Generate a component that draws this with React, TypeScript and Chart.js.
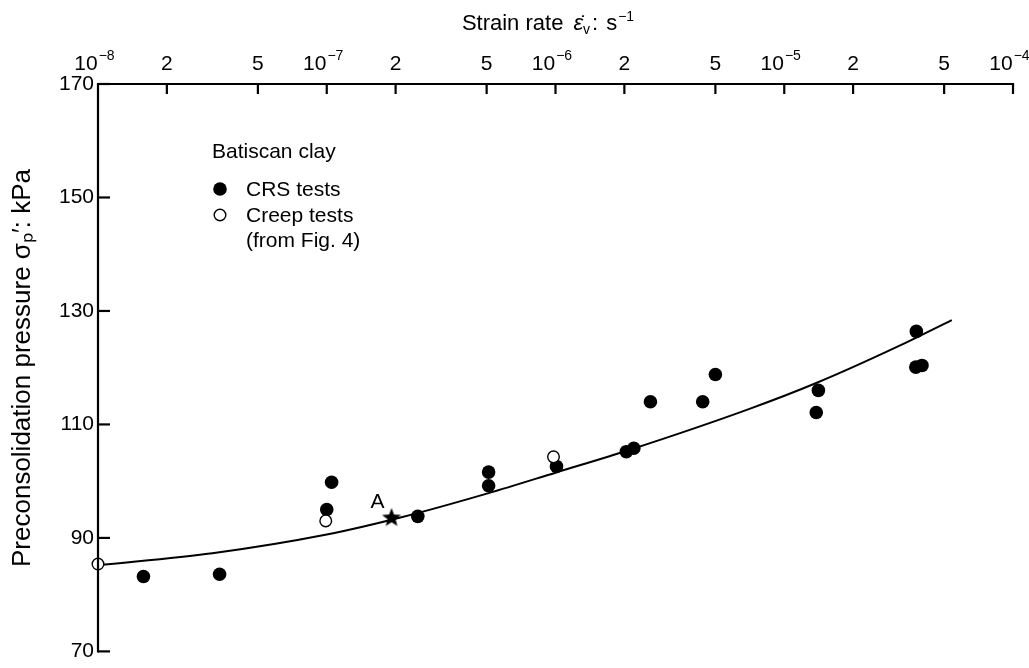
import React, { useEffect, useRef } from "react";
import { Chart, registerables } from "chart.js";
Chart.register(...registerables);

// ---- data ----
const crsRate = [1.58e-8, 3.4e-8, 1.0e-7, 1.05e-7, 2.5e-7, 5.1e-7, 5.1e-7, 1.01e-6, 2.04e-6, 2.2e-6, 2.6e-6, 4.4e-6, 5.0e-6, 1.41e-5, 1.38e-5, 3.78e-5, 3.76e-5, 4.0e-5];
const crsPressure = [83.2, 83.6, 95.0, 99.8, 93.8, 101.6, 99.2, 102.6, 105.2, 105.8, 114.0, 114.0, 118.8, 116.0, 112.1, 126.4, 120.1, 120.4];
const creepRate = [1.0e-8, 9.9e-8, 9.8e-7];
const creepPressure = [85.4, 93.0, 104.3];
const pointARate = [1.92e-7];
const pointAPressure = [93.6];
const curveRate = [1e-8, 3.16e-8, 1e-7, 2.1e-7, 5.1e-7, 1e-6, 2.1e-6, 7e-6, 1.38e-5, 3.16e-5, 5.4e-5];
const curvePressure = [85.2, 87.3, 90.6, 93.6, 97.9, 101.5, 105.5, 112.7, 117.3, 123.8, 128.4];
const xTickValues = [1e-8, 2e-8, 5e-8, 1e-7, 2e-7, 5e-7, 1e-6, 2e-6, 5e-6, 1e-5, 2e-5, 5e-5, 1e-4];
const xTickMain = ["10", "2", "5", "10", "2", "5", "10", "2", "5", "10", "2", "5", "10"];
const xTickSup = ["−8", "", "", "−7", "", "", "−6", "", "", "−5", "", "", "−4"];
const yTickValues = [70, 90, 110, 130, 150, 170];
const legendTitle = "Batiscan clay";
const legendCRS = "CRS tests";
const legendCreep = ["Creep tests", "(from Fig. 4)"];
const xTitleParts = ["Strain rate", "ε̇", "v", ":", "s", "−1"];
const yTitle = "Preconsolidation pressure σₚ′: kPa";
const labelA = "A";

const FONT = "'Liberation Sans', Arial, Helvetica, sans-serif";

function makeStar(): HTMLCanvasElement {
  const c = document.createElement("canvas");
  c.width = 22;
  c.height = 22;
  const g = c.getContext("2d")!;
  g.fillStyle = "#000";
  g.beginPath();
  for (let i = 0; i < 10; i++) {
    const r = i % 2 === 0 ? 10 : 4.2;
    const a = -Math.PI / 2 + (i * Math.PI) / 5;
    const px = 11 + r * Math.cos(a);
    const py = 11.5 + r * Math.sin(a);
    if (i === 0) g.moveTo(px, py);
    else g.lineTo(px, py);
  }
  g.closePath();
  g.fill();
  return c;
}

const overlay = {
  id: "overlay",
  afterDraw(chart: any) {
    const { ctx, scales } = chart;
    const xs = scales.x;
    const ys = scales.y;
    const left = xs.getPixelForValue(xTickValues[0]);
    const right = xs.getPixelForValue(xTickValues[xTickValues.length - 1]);
    const top = ys.getPixelForValue(yTickValues[yTickValues.length - 1]);
    const bottom = ys.getPixelForValue(yTickValues[0]);
    ctx.save();
    ctx.strokeStyle = "#000";
    ctx.fillStyle = "#000";
    ctx.lineWidth = 2.2;
    ctx.lineCap = "square";
    ctx.beginPath();
    ctx.moveTo(left, top);
    ctx.lineTo(right, top);
    ctx.moveTo(left, top);
    ctx.lineTo(left, bottom);
    ctx.stroke();
    ctx.lineCap = "butt";
    // top axis ticks and labels
    xTickValues.forEach((v, i) => {
      const px = xs.getPixelForValue(v);
      if (i > 0) {
        ctx.beginPath();
        ctx.moveTo(px, top);
        ctx.lineTo(px, top + 10);
        ctx.stroke();
      }
      const main = xTickMain[i];
      const sup = xTickSup[i];
      ctx.textBaseline = "alphabetic";
      ctx.font = `21px ${FONT}`;
      if (sup) {
        const wm = ctx.measureText(main).width;
        ctx.font = `14px ${FONT}`;
        const ws = ctx.measureText(sup).width;
        const start = px - (wm + ws) / 2 - 4;
        ctx.font = `21px ${FONT}`;
        ctx.textAlign = "left";
        ctx.fillText(main, start, 70);
        ctx.font = `14px ${FONT}`;
        ctx.fillText(sup, start + wm + 1, 60);
      } else {
        ctx.textAlign = "center";
        ctx.fillText(main, px, 70);
      }
    });
    // left axis ticks (inward)
    yTickValues.forEach((v) => {
      const py = ys.getPixelForValue(v);
      ctx.beginPath();
      ctx.moveTo(left, py);
      ctx.lineTo(left + 12, py);
      ctx.stroke();
    });
    // top title, built from parts
    ctx.textBaseline = "alphabetic";
    ctx.textAlign = "left";
    const f1 = `22px ${FONT}`;
    const fi = `italic 22px ${FONT}`;
    const fs = `14px ${FONT}`;
    const widths: number[] = [];
    ctx.font = f1; widths.push(ctx.measureText(xTitleParts[0]).width);
    ctx.font = fi; widths.push(ctx.measureText(xTitleParts[1]).width);
    ctx.font = fs; widths.push(ctx.measureText(xTitleParts[2]).width);
    ctx.font = f1; widths.push(ctx.measureText(xTitleParts[3]).width);
    ctx.font = f1; widths.push(ctx.measureText(xTitleParts[4]).width);
    ctx.font = fs; widths.push(ctx.measureText(xTitleParts[5]).width);
    const gaps = [10, 0, 2, 8, 1, 0];
    const total = widths.reduce((a, b) => a + b, 0) + gaps.reduce((a, b) => a + b, 0);
    let tx = 548 - total / 2;
    const ty = 30;
    ctx.font = f1; ctx.fillText(xTitleParts[0], tx, ty); tx += widths[0] + gaps[0];
    ctx.font = fi; ctx.fillText(xTitleParts[1], tx, ty); tx += widths[1] + gaps[1];
    ctx.font = fs; ctx.fillText(xTitleParts[2], tx, ty + 4); tx += widths[2] + gaps[2];
    ctx.font = f1; ctx.fillText(xTitleParts[3], tx, ty); tx += widths[3] + gaps[3];
    ctx.font = f1; ctx.fillText(xTitleParts[4], tx, ty); tx += widths[4] + gaps[4];
    ctx.font = fs; ctx.fillText(xTitleParts[5], tx, ty - 9);
    // left title
    ctx.font = `26px ${FONT}`;
    ctx.textAlign = "center";
    ctx.textBaseline = "middle";
    ctx.save();
    ctx.translate(23, 368);
    ctx.rotate(-Math.PI / 2);
    ctx.fillText(yTitle, 0, 0);
    ctx.restore();
    // legend
    ctx.textAlign = "left";
    ctx.font = `21px ${FONT}`;
    ctx.fillText(legendTitle, 212, 152);
    ctx.beginPath();
    ctx.arc(220, 189, 6.8, 0, Math.PI * 2);
    ctx.fill();
    ctx.fillText(legendCRS, 246, 190);
    ctx.lineWidth = 1.4;
    ctx.beginPath();
    ctx.arc(220, 215, 5.8, 0, Math.PI * 2);
    ctx.stroke();
    ctx.fillText(legendCreep[0], 246, 216);
    ctx.fillText(legendCreep[1], 246, 241);
    // label A
    const ax = xs.getPixelForValue(pointARate[0]);
    const ay = ys.getPixelForValue(pointAPressure[0]);
    ctx.textAlign = "center";
    ctx.font = `21px ${FONT}`;
    ctx.fillText(labelA, ax - 14, ay - 15);
    ctx.restore();
  },
};

export default function App() {
  const ref = useRef<HTMLCanvasElement | null>(null);
  useEffect(() => {
    document.body.style.margin = "0";
    const canvas = ref.current!;
    const star = makeStar();
    const chart = new Chart(canvas, {
      type: "scatter",
      data: {
        datasets: [
          {
            label: "Creep tests",
            data: creepRate.map((x, i) => ({ x, y: creepPressure[i] })),
            pointStyle: "circle",
            pointRadius: 5.8,
            backgroundColor: "#fff",
            borderColor: "#000",
            borderWidth: 1.4,
            clip: false,
          },
          {
            label: "A",
            data: pointARate.map((x, i) => ({ x, y: pointAPressure[i] })),
            pointStyle: star,
            clip: false,
          },
          {
            label: "CRS tests",
            data: crsRate.map((x, i) => ({ x, y: crsPressure[i] })),
            pointStyle: "circle",
            pointRadius: 6.8,
            backgroundColor: "#000",
            borderColor: "#000",
            borderWidth: 0,
            clip: false,
          },
          {
            type: "line",
            label: "Fit",
            data: curveRate.map((x, i) => ({ x, y: curvePressure[i] })),
            borderColor: "#000",
            borderWidth: 2,
            pointRadius: 0,
            showLine: true,
            fill: false,
            cubicInterpolationMode: "monotone",
            clip: false,
          } as any,
        ],
      },
      options: {
        animation: false,
        responsive: false,
        maintainAspectRatio: false,
        layout: { padding: { left: 0, top: 0, right: 16, bottom: 14 } },
        plugins: { legend: { display: false }, tooltip: { enabled: false } },
        scales: {
          x: {
            type: "logarithmic",
            position: "top",
            min: xTickValues[0],
            max: xTickValues[xTickValues.length - 1],
            grid: { display: false, drawTicks: false },
            border: { display: false },
            ticks: { display: false },
            afterFit: (s: any) => {
              s.height = 84;
            },
          },
          y: {
            type: "linear",
            min: yTickValues[0],
            max: yTickValues[yTickValues.length - 1],
            grid: { display: false, drawTicks: false },
            border: { display: false },
            afterBuildTicks: (s: any) => {
              s.ticks = yTickValues.map((v) => ({ value: v }));
            },
            ticks: {
              color: "#000",
              padding: 4,
              font: { family: FONT, size: 21 },
            },
            afterFit: (s: any) => {
              s.width = 98;
            },
          },
        },
      },
      plugins: [overlay],
    });
    return () => chart.destroy();
  }, []);
  return <canvas ref={ref} width={1029} height={668} style={{ display: "block" }} />;
}
